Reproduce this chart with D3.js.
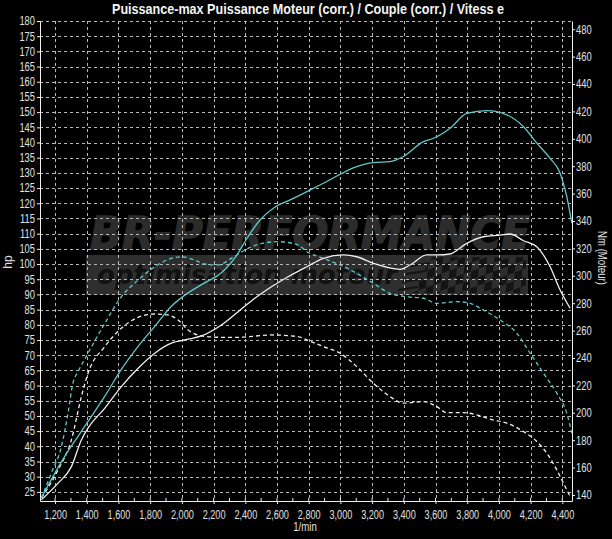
<!DOCTYPE html>
<html>
<head>
<meta charset="utf-8">
<script src="https://cdn.jsdelivr.net/npm/d3@7"></script>
<style>
html,body{margin:0;padding:0;background:#000;}
svg{display:block;}
</style>
</head>
<body>
<svg id="chart" width="612" height="539"></svg>
<script>
// ---- data ----
const title = "Puissance-max Puissance Moteur (corr.) / Couple (corr.) / Vitess e";
const xLabel = "1/min";
const yLeftLabel = "hp";
const yRightLabel = "Nm (Moteur)";
const xTicks = [1200,1400,1600,1800,2000,2200,2400,2600,2800,3000,3200,3400,3600,3800,4000,4200,4400];
const hpTicks = [25,30,35,40,45,50,55,60,65,70,75,80,85,90,95,100,105,110,115,120,125,130,135,140,145,150,155,160,165,170,175,180];
const nmTicks = [140,160,180,200,220,240,260,280,300,320,340,360,380,400,420,440,460,480];

// Puissance (hp) - cyan solid
const powerRpm = [1114,1261,1345,1408,1514,1618,1724,1829,1934,2039,2144,2249,2355,2405,2493,2588,2683,2893,3103,3208,3313,3397,3524,3587,3692,3797,3924,4050,4155,4239,4323,4386,4428,4460];
const powerHp  = [23.1,36.7,43.3,48.2,56.5,65.3,72.9,79.5,86.1,90.5,93.8,97.1,103.6,108,114.5,118.8,121.1,126.6,132.1,133.4,133.7,135.4,140.3,141.4,144.7,149.6,150.5,149.1,145.2,139.8,134.8,129.9,122.2,113.5];

// Couple (Nm) - white solid
const torqueRpm = [1114,1219,1303,1366,1408,1514,1618,1724,1829,1934,2039,2123,2249,2355,2460,2565,2670,2788,2893,3019,3103,3208,3377,3440,3545,3608,3692,3797,3902,4008,4071,4155,4239,4323,4386,4449];
const torqueNm  = [136.5,148.6,160.7,180.2,188.8,203.4,219.1,232.5,243.5,250.8,253.7,256.1,264.1,273.8,283.6,292.0,299.3,306.6,312.8,315.2,313.9,309.1,304.7,307.9,315.2,315.2,315.9,323.7,328.5,329.7,330.5,325.6,321.2,306.6,289.6,276.3];

// Cyan dashed curve (Nm scale)
const cyanDashRpm = [1114,1177,1240,1282,1313,1345,1408,1514,1618,1724,1829,1934,1997,2081,2144,2228,2312,2397,2523,2607,2733,2788,2893,2998,3103,3208,3313,3419,3524,3608,3734,3818,3902,4008,4113,4197,4281,4365,4428,4460];
const cyanDashNm  = [137.9,156.2,175.3,199.9,221.8,230.0,243.5,265.3,284.7,296.9,306.6,312.7,313.9,311.5,308.6,307.9,312.7,318.8,324.1,324.9,322.5,317.6,312.7,307.9,301.8,294.5,287.2,284.7,283.6,279.9,281.1,279.9,275.0,267.7,258.0,243.5,228.9,214.3,199.7,185.1];

// White dashed curve (Nm scale)
const whiteDashRpm = [1114,1219,1303,1366,1408,1514,1618,1724,1829,1913,1976,2039,2123,2249,2355,2565,2733,2788,2893,2998,3103,3208,3313,3397,3524,3608,3671,3776,3860,3944,4050,4155,4239,4302,4365,4407,4449];
const whiteDashNm  = [137.9,158.3,180.2,211.8,228.9,248.3,261.7,269.7,272.1,271.4,267.7,260.5,256.1,255.1,255.1,256.8,255.6,253.2,248.3,243.5,233.7,221.6,211.8,207.0,208.2,204.5,200.1,200.1,198.5,195.3,192.4,186.3,179.0,170.5,158.3,148.6,138.9];

// ---- layout ----
const L = 40, R = 572, T = 21, B = 501;
const svg = d3.select("#chart");
svg.append("rect").attr("width",612).attr("height",539).attr("fill","#000");

const x = d3.scaleLinear().domain([1105, 4461]).range([L, R]);
const yHp = d3.scaleLinear().domain([22, 180]).range([B, T]);
const yNm = d3.scaleLinear().domain([135.6, 486]).range([B, T]);

const font = "'Liberation Sans', Arial, sans-serif";
// condense text horizontally (the original uses a narrow face)
function condense(sel, f){
  sel.each(function(){
    const len = this.getComputedTextLength();
    d3.select(this).attr("textLength", len*f).attr("lengthAdjust","spacingAndGlyphs");
  });
}

// ---- watermark ----
const wm = svg.append("g");
wm.append("rect").attr("x",86).attr("y",255).attr("width",442).attr("height",40).attr("fill","#2e2e2e");
wm.append("text").text("BR-PERFORMANCE")
  .attr("x",90).attr("y",249)
  .attr("font-family","'DejaVu Sans', sans-serif")
  .attr("font-weight","bold").attr("font-style","italic")
  .attr("font-size",45)
  .attr("textLength",440).attr("lengthAdjust","spacingAndGlyphs")
  .attr("fill","#2c2c2c").attr("stroke","#2c2c2c").attr("stroke-width",1.5);
wm.append("text").text("optimisation moteur")
  .attr("x",97).attr("y",284)
  .attr("font-family","'DejaVu Sans', sans-serif")
  .attr("font-weight","bold").attr("font-style","italic")
  .attr("font-size",26)
  .attr("textLength",300).attr("lengthAdjust","spacing")
  .attr("fill","#111111");
// checkered flag
const defs = svg.append("defs");
const pat = defs.append("pattern").attr("id","checker").attr("patternUnits","userSpaceOnUse")
  .attr("width",16).attr("height",16).attr("patternTransform","rotate(-20) skewX(-25)");
pat.append("rect").attr("width",16).attr("height",16).attr("fill","#2e2e2e");
pat.append("rect").attr("width",8).attr("height",8).attr("fill","#141414");
pat.append("rect").attr("x",8).attr("y",8).attr("width",8).attr("height",8).attr("fill","#141414");
wm.append("path").attr("d","M412,293 L432,257 L526,257 L526,293 Z").attr("fill","url(#checker)");
[0,1,2,3].forEach(i=>{
  wm.append("line").attr("x1",398+i*4).attr("y1",290-i*8).attr("x2",418+i*4).attr("y2",287-i*8)
    .attr("stroke","#141414").attr("stroke-width",2);
});

// ---- grid ----
const grid = svg.append("g").attr("stroke","#b8b8b8").attr("stroke-width",1).attr("stroke-dasharray","3,3").attr("shape-rendering","crispEdges");
hpTicks.forEach(v=>{
  grid.append("line").attr("x1",L).attr("x2",R).attr("y1",Math.round(yHp(v))+0.5).attr("y2",Math.round(yHp(v))+0.5);
});
xTicks.forEach(v=>{
  grid.append("line").attr("y1",T).attr("y2",B).attr("x1",Math.round(x(v))+0.5).attr("x2",Math.round(x(v))+0.5);
});

// ---- curves ----
const cyan = "#5ec8c8";
const line = (ys)=>d3.line().x(d=>x(d[0])).y(d=>ys(d[1])).curve(d3.curveMonotoneX);
const zip = (a,b)=>a.map((v,i)=>[v,b[i]]);
svg.append("path").datum(zip(whiteDashRpm,whiteDashNm)).attr("d",line(yNm))
  .attr("fill","none").attr("stroke","#f0f0f0").attr("stroke-width",1.3).attr("stroke-dasharray","4,3");
svg.append("path").datum(zip(cyanDashRpm,cyanDashNm)).attr("d",line(yNm))
  .attr("fill","none").attr("stroke",cyan).attr("stroke-width",1.3).attr("stroke-dasharray","4,3");
svg.append("path").datum(zip(torqueRpm,torqueNm)).attr("d",line(yNm))
  .attr("fill","none").attr("stroke","#f0f0f0").attr("stroke-width",1.3);
svg.append("path").datum(zip(powerRpm,powerHp)).attr("d",line(yHp))
  .attr("fill","none").attr("stroke",cyan).attr("stroke-width",1.3);

// ---- axes ----
const styleAxis = g=>{
  g.select(".domain").attr("stroke","#f0f0f0");
  g.selectAll(".tick line").attr("stroke","#f0f0f0");
  g.selectAll(".tick text").attr("fill","#e0e0e0").attr("font-family",font).attr("font-size",12);
};
const gL = svg.append("g").attr("transform",`translate(${L},0)`)
  .call(d3.axisLeft(yHp).tickValues(hpTicks).tickSize(3).tickPadding(2).tickSizeOuter(0))
  .call(styleAxis);
const gR = svg.append("g").attr("transform",`translate(${R},0)`)
  .call(d3.axisRight(yNm).tickValues(nmTicks).tickSize(3).tickPadding(1).tickSizeOuter(0))
  .call(styleAxis);
const gB = svg.append("g").attr("transform",`translate(0,${B})`)
  .call(d3.axisBottom(x).tickValues(xTicks).tickFormat(d3.format(",")).tickSize(3).tickPadding(6).tickSizeOuter(0))
  .call(styleAxis);
condense(gL.selectAll(".tick text"), 0.78);
condense(gR.selectAll(".tick text"), 0.78);
condense(gB.selectAll(".tick text"), 0.76);
svg.append("g").selectAll("line").data(d3.range(1200,4500,100)).join("line")
  .attr("x1",d=>x(d)).attr("x2",d=>x(d)).attr("y1",B).attr("y2",B-3).attr("stroke","#f0f0f0");

// ---- labels ----
svg.append("text").text(title).attr("x",308).attr("y",14).attr("text-anchor","middle")
  .attr("font-family",font).attr("font-weight","bold").attr("font-size",14).attr("fill","#f4f4f4")
  .attr("textLength",392).attr("lengthAdjust","spacingAndGlyphs");
svg.append("text").text(xLabel).attr("x",305).attr("y",531).attr("text-anchor","middle")
  .attr("font-family",font).attr("font-size",12).attr("fill","#e0e0e0").call(condense,0.8);
svg.append("text").text(yLeftLabel).attr("transform","translate(12,262) rotate(-90)").attr("text-anchor","middle")
  .attr("font-family",font).attr("font-size",12).attr("fill","#e0e0e0");
svg.append("text").text(yRightLabel).attr("transform","translate(598,258) rotate(90)").attr("text-anchor","middle")
  .attr("font-family",font).attr("font-size",12).attr("fill","#e0e0e0").call(condense,0.8);
</script>
</body>
</html>
